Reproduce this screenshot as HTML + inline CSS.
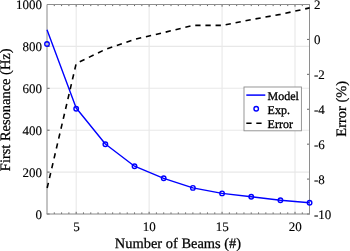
<!DOCTYPE html>
<html><head><meta charset="utf-8"><style>
html,body{text-rendering:geometricPrecision;margin:0;padding:0;background:#fff;width:350px;height:251px;overflow:hidden;position:relative}
</style></head><body>
<svg width="350" height="251" viewBox="0 0 350 251" style="position:absolute;left:0;top:0;will-change:transform">
<g stroke="#e8e8e8" stroke-width="1.1"><line x1="76.18" y1="4.5" x2="76.18" y2="214.0"/><line x1="149.12" y1="4.5" x2="149.12" y2="214.0"/><line x1="222.07" y1="4.5" x2="222.07" y2="214.0"/><line x1="295.01" y1="4.5" x2="295.01" y2="214.0"/><line x1="47.0" y1="172.10" x2="309.6" y2="172.10"/><line x1="47.0" y1="130.20" x2="309.6" y2="130.20"/><line x1="47.0" y1="88.30" x2="309.6" y2="88.30"/><line x1="47.0" y1="46.40" x2="309.6" y2="46.40"/></g>
<g stroke="#555" stroke-width="0.9"><line x1="54.29" y1="214.0" x2="54.29" y2="212.4"/><line x1="54.29" y1="4.5" x2="54.29" y2="6.1"/><line x1="61.59" y1="214.0" x2="61.59" y2="212.4"/><line x1="61.59" y1="4.5" x2="61.59" y2="6.1"/><line x1="68.88" y1="214.0" x2="68.88" y2="212.4"/><line x1="68.88" y1="4.5" x2="68.88" y2="6.1"/><line x1="76.18" y1="214.0" x2="76.18" y2="211.8"/><line x1="76.18" y1="4.5" x2="76.18" y2="6.7"/><line x1="83.47" y1="214.0" x2="83.47" y2="212.4"/><line x1="83.47" y1="4.5" x2="83.47" y2="6.1"/><line x1="90.77" y1="214.0" x2="90.77" y2="212.4"/><line x1="90.77" y1="4.5" x2="90.77" y2="6.1"/><line x1="98.06" y1="214.0" x2="98.06" y2="212.4"/><line x1="98.06" y1="4.5" x2="98.06" y2="6.1"/><line x1="105.36" y1="214.0" x2="105.36" y2="212.4"/><line x1="105.36" y1="4.5" x2="105.36" y2="6.1"/><line x1="112.65" y1="214.0" x2="112.65" y2="212.4"/><line x1="112.65" y1="4.5" x2="112.65" y2="6.1"/><line x1="119.94" y1="214.0" x2="119.94" y2="212.4"/><line x1="119.94" y1="4.5" x2="119.94" y2="6.1"/><line x1="127.24" y1="214.0" x2="127.24" y2="212.4"/><line x1="127.24" y1="4.5" x2="127.24" y2="6.1"/><line x1="134.53" y1="214.0" x2="134.53" y2="212.4"/><line x1="134.53" y1="4.5" x2="134.53" y2="6.1"/><line x1="141.83" y1="214.0" x2="141.83" y2="212.4"/><line x1="141.83" y1="4.5" x2="141.83" y2="6.1"/><line x1="149.12" y1="214.0" x2="149.12" y2="211.8"/><line x1="149.12" y1="4.5" x2="149.12" y2="6.7"/><line x1="156.42" y1="214.0" x2="156.42" y2="212.4"/><line x1="156.42" y1="4.5" x2="156.42" y2="6.1"/><line x1="163.71" y1="214.0" x2="163.71" y2="212.4"/><line x1="163.71" y1="4.5" x2="163.71" y2="6.1"/><line x1="171.01" y1="214.0" x2="171.01" y2="212.4"/><line x1="171.01" y1="4.5" x2="171.01" y2="6.1"/><line x1="178.30" y1="214.0" x2="178.30" y2="212.4"/><line x1="178.30" y1="4.5" x2="178.30" y2="6.1"/><line x1="185.59" y1="214.0" x2="185.59" y2="212.4"/><line x1="185.59" y1="4.5" x2="185.59" y2="6.1"/><line x1="192.89" y1="214.0" x2="192.89" y2="212.4"/><line x1="192.89" y1="4.5" x2="192.89" y2="6.1"/><line x1="200.18" y1="214.0" x2="200.18" y2="212.4"/><line x1="200.18" y1="4.5" x2="200.18" y2="6.1"/><line x1="207.48" y1="214.0" x2="207.48" y2="212.4"/><line x1="207.48" y1="4.5" x2="207.48" y2="6.1"/><line x1="214.77" y1="214.0" x2="214.77" y2="212.4"/><line x1="214.77" y1="4.5" x2="214.77" y2="6.1"/><line x1="222.07" y1="214.0" x2="222.07" y2="211.8"/><line x1="222.07" y1="4.5" x2="222.07" y2="6.7"/><line x1="229.36" y1="214.0" x2="229.36" y2="212.4"/><line x1="229.36" y1="4.5" x2="229.36" y2="6.1"/><line x1="236.66" y1="214.0" x2="236.66" y2="212.4"/><line x1="236.66" y1="4.5" x2="236.66" y2="6.1"/><line x1="243.95" y1="214.0" x2="243.95" y2="212.4"/><line x1="243.95" y1="4.5" x2="243.95" y2="6.1"/><line x1="251.24" y1="214.0" x2="251.24" y2="212.4"/><line x1="251.24" y1="4.5" x2="251.24" y2="6.1"/><line x1="258.54" y1="214.0" x2="258.54" y2="212.4"/><line x1="258.54" y1="4.5" x2="258.54" y2="6.1"/><line x1="265.83" y1="214.0" x2="265.83" y2="212.4"/><line x1="265.83" y1="4.5" x2="265.83" y2="6.1"/><line x1="273.13" y1="214.0" x2="273.13" y2="212.4"/><line x1="273.13" y1="4.5" x2="273.13" y2="6.1"/><line x1="280.42" y1="214.0" x2="280.42" y2="212.4"/><line x1="280.42" y1="4.5" x2="280.42" y2="6.1"/><line x1="287.72" y1="214.0" x2="287.72" y2="212.4"/><line x1="287.72" y1="4.5" x2="287.72" y2="6.1"/><line x1="295.01" y1="214.0" x2="295.01" y2="211.8"/><line x1="295.01" y1="4.5" x2="295.01" y2="6.7"/><line x1="302.31" y1="214.0" x2="302.31" y2="212.4"/><line x1="302.31" y1="4.5" x2="302.31" y2="6.1"/><line x1="47.0" y1="214.00" x2="49.6" y2="214.00"/><line x1="47.0" y1="172.10" x2="49.6" y2="172.10"/><line x1="47.0" y1="130.20" x2="49.6" y2="130.20"/><line x1="47.0" y1="88.30" x2="49.6" y2="88.30"/><line x1="47.0" y1="46.40" x2="49.6" y2="46.40"/><line x1="47.0" y1="4.50" x2="49.6" y2="4.50"/><line x1="309.6" y1="214.00" x2="307.0" y2="214.00"/><line x1="309.6" y1="179.08" x2="307.0" y2="179.08"/><line x1="309.6" y1="144.17" x2="307.0" y2="144.17"/><line x1="309.6" y1="109.25" x2="307.0" y2="109.25"/><line x1="309.6" y1="74.33" x2="307.0" y2="74.33"/><line x1="309.6" y1="39.42" x2="307.0" y2="39.42"/><line x1="309.6" y1="4.50" x2="307.0" y2="4.50"/></g>
<line x1="47.0" y1="4.5" x2="309.5" y2="4.5" stroke="#8e8e8e" stroke-width="1"/>
<line x1="309.5" y1="4.5" x2="309.5" y2="214.0" stroke="#8e8e8e" stroke-width="1"/>
<line x1="46.5" y1="214.0" x2="310" y2="214.0" stroke="#888888" stroke-width="1"/>
<line x1="47.0" y1="4.5" x2="47.0" y2="214.0" stroke="#888888" stroke-width="1"/>
<polyline points="47.00,29.70 76.18,108.00 105.36,144.00 134.53,166.20 163.71,178.30 192.89,187.90 222.07,193.40 251.24,196.70 280.42,200.30 309.60,202.70" fill="none" stroke="#0000ff" stroke-width="1.4" stroke-linejoin="round"/>
<circle cx="47.00" cy="44.00" r="2.25" fill="none" stroke="#0000ff" stroke-width="1.4"/>
<circle cx="76.18" cy="108.80" r="2.25" fill="none" stroke="#0000ff" stroke-width="1.4"/>
<circle cx="105.36" cy="144.20" r="2.25" fill="none" stroke="#0000ff" stroke-width="1.4"/>
<circle cx="134.53" cy="166.20" r="2.25" fill="none" stroke="#0000ff" stroke-width="1.4"/>
<circle cx="163.71" cy="178.30" r="2.25" fill="none" stroke="#0000ff" stroke-width="1.4"/>
<circle cx="192.89" cy="187.90" r="2.25" fill="none" stroke="#0000ff" stroke-width="1.4"/>
<circle cx="222.07" cy="193.40" r="2.25" fill="none" stroke="#0000ff" stroke-width="1.4"/>
<circle cx="251.24" cy="196.70" r="2.25" fill="none" stroke="#0000ff" stroke-width="1.4"/>
<circle cx="280.42" cy="200.30" r="2.25" fill="none" stroke="#0000ff" stroke-width="1.4"/>
<circle cx="309.60" cy="202.70" r="2.25" fill="none" stroke="#0000ff" stroke-width="1.4"/>
<polyline points="47.00,188.70 76.18,63.50 105.36,49.40 134.53,39.40 163.71,32.60 192.89,25.40 222.07,25.40 251.24,19.60 280.42,14.40 309.60,7.90" fill="none" stroke="#000" stroke-width="1.6" stroke-dasharray="5.3 4.84" stroke-dashoffset="-0.7"/>
<rect x="244" y="87" width="57.4" height="43.8" fill="#fff" stroke="#8c8c8c" stroke-width="0.9"/>
<line x1="246.3" y1="95.1" x2="265.3" y2="95.1" stroke="#0000ff" stroke-width="1.5"/>
<circle cx="256.2" cy="108.8" r="2.25" fill="none" stroke="#0000ff" stroke-width="1.4"/>
<line x1="246.3" y1="123.2" x2="265.3" y2="123.2" stroke="#000" stroke-width="1.6" stroke-dasharray="5.3 4.7"/>
<g font-family="Liberation Serif" fill="#000" stroke="#000" stroke-width="0.3" font-size="12"><text x="267.6" y="99.5">Model</text><text x="267.6" y="113.8">Exp.</text><text x="267.6" y="127.7">Error</text></g>
<g font-family="Liberation Serif" fill="#000" stroke="#000" font-size="13" stroke-width="0.15"><text x="42" y="218.60" text-anchor="end">0</text><text x="42" y="176.70" text-anchor="end">200</text><text x="42" y="134.80" text-anchor="end">400</text><text x="42" y="92.90" text-anchor="end">600</text><text x="42" y="51.00" text-anchor="end">800</text><text x="42" y="9.10" text-anchor="end">1000</text><text x="314" y="218.60">-10</text><text x="314" y="183.68">-8</text><text x="314" y="148.77">-6</text><text x="314" y="113.85">-4</text><text x="314" y="78.93">-2</text><text x="314" y="44.02">0</text><text x="314" y="9.10">2</text><text x="76.38" y="230.5" text-anchor="middle">5</text><text x="149.32" y="230.5" text-anchor="middle">10</text><text x="222.27" y="230.5" text-anchor="middle">15</text><text x="295.21" y="230.5" text-anchor="middle">20</text></g>
<text font-family="Liberation Serif" fill="#000" stroke="#000" stroke-width="0.25" font-size="14.45" x="178.0" y="247.8" text-anchor="middle">Number of Beams (#)</text>
<text font-family="Liberation Serif" fill="#000" stroke="#000" stroke-width="0.25" font-size="14.45" transform="translate(9.6,109.8) rotate(-90)" text-anchor="middle">First Resonance (Hz)</text>
<text font-family="Liberation Serif" fill="#000" stroke="#000" stroke-width="0.25" font-size="14.45" transform="translate(345.5,108.8) rotate(-90)" text-anchor="middle">Error (%)</text>
</svg>
</body></html>
